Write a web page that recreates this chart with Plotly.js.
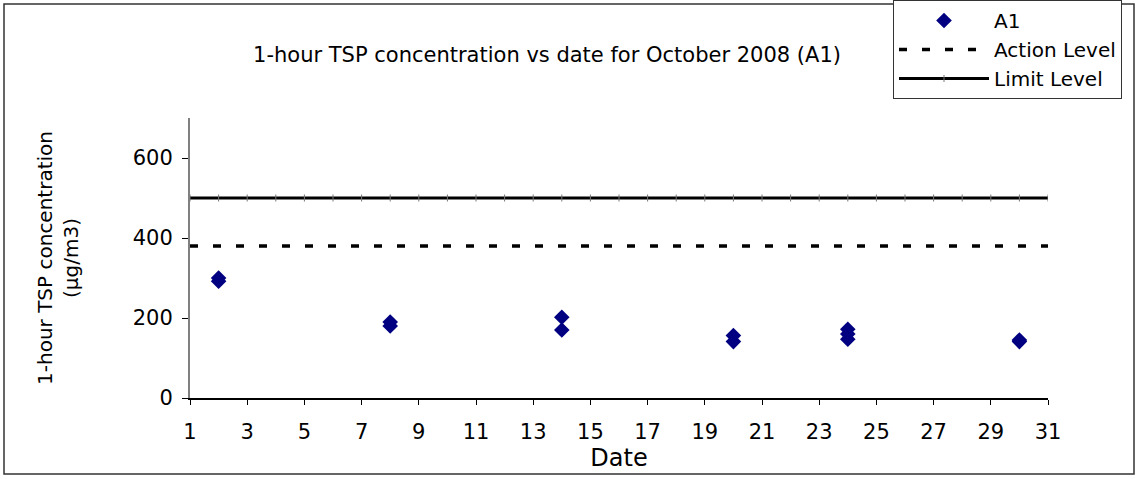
<!DOCTYPE html>
<html>
<head>
<meta charset="utf-8">
<script src="https://cdn.plot.ly/plotly-3.0.1.min.js"></script>
<style>
  html, body { margin: 0; padding: 0; background: #fff; }
  #chart { width: 1136px; height: 479px; }
</style>
</head>
<body>
<div id="chart"></div>
<script>
// ---- data ----
const a1Dates  = [2, 2, 8, 8, 14, 14, 20, 20, 24, 24, 24, 30, 30];
const a1Values = [300, 292, 190, 180, 202, 170, 156, 141, 172, 160, 147, 145, 141];
const levelDates = [1,2,3,4,5,6,7,8,9,10,11,12,13,14,15,16,17,18,19,20,21,22,23,24,25,26,27,28,29,30,31];
const actionLevel = 380;
const limitLevel = 500;
const xTickVals = [1,3,5,7,9,11,13,15,17,19,21,23,25,27,29,31];
const yTickVals = [0, 200, 400, 600];

const FONT = "DejaVu Sans, Liberation Sans, sans-serif";

const traces = [
  {
    x: a1Dates, y: a1Values, name: "A1", type: "scatter", mode: "markers",
    marker: { symbol: "diamond", size: 12, color: "#000080" }
  },
  {
    x: levelDates, y: levelDates.map(() => actionLevel), name: "Action Level",
    type: "scatter", mode: "lines",
    line: { color: "#000000", width: 3.5, dash: "8px,15px" }
  },
  {
    x: levelDates, y: levelDates.map(() => limitLevel), name: "Limit Level",
    type: "scatter", mode: "lines+markers",
    line: { color: "#000000", width: 3 },
    marker: { symbol: "line-ns-open", size: 5, color: "#777", line: { width: 1, color: "#777" } }
  }
];

const L = 190, R = 88, T = 118, B = 81;
const W = 1136 - L - R, H = 479 - T - B;
const px = v => (v - L) / W;
const py = v => (479 - B - v) / H;

const layout = {
  width: 1136, height: 479,
  margin: { l: L, r: R, t: T, b: B, pad: 0, autoexpand: false },
  paper_bgcolor: "#ffffff", plot_bgcolor: "#ffffff",
  font: { family: FONT, color: "#000" },
  showlegend: true,
  title: {
    text: "1-hour TSP concentration vs date for October 2008 (A1)",
    font: { family: FONT, size: 21, color: "#000" },
    x: 547 / 1136, xanchor: "center", xref: "container",
    y: 1 - 55 / 479, yanchor: "middle", yref: "container",
    automargin: false
  },
  xaxis: {
    range: [1, 31], tickvals: xTickVals, ticktext: xTickVals.map(String),
    showgrid: false, zeroline: false, automargin: false,
    showline: true, linecolor: "#000", linewidth: 1.5,
    ticks: "outside", ticklen: 5, tickcolor: "#000", tickwidth: 1,
    tickfont: { family: FONT, size: 21, color: "#000" },
    ticklabelstandoff: 9,
    title: { text: "Date", font: { family: FONT, size: 24, color: "#000" }, standoff: 0 }
  },
  yaxis: {
    range: [0, 700], tickvals: yTickVals, ticktext: yTickVals.map(String),
    showgrid: false, zeroline: false, automargin: false,
    showline: true, linecolor: "#808080", linewidth: 2,
    ticks: "outside", ticklen: 6, tickcolor: "#000", tickwidth: 1,
    tickfont: { family: FONT, size: 21, color: "#000" },
    ticklabelstandoff: 5,
    title: { text: "1-hour TSP concentration<br>(μg/m3)", font: { family: FONT, size: 20, color: "#000" }, standoff: 49 }
  },
  legend: {
    x: px(893), xanchor: "left", y: py(0), yanchor: "top",
    bgcolor: "#ffffff", bordercolor: "#333", borderwidth: 1,
    font: { family: FONT, size: 20, color: "#000" },
    tracegroupgap: 0, itemwidth: 90, entrywidth: 271
  },
  shapes: [
    {
      type: "rect", xref: "paper", yref: "paper",
      x0: px(4), x1: px(1134), y0: py(474), y1: py(4),
      line: { color: "#333", width: 1.5 }, fillcolor: "rgba(0,0,0,0)", layer: "below"
    }
  ]
};

Plotly.newPlot("chart", traces, layout, { displayModeBar: false, staticPlot: true });
</script>
</body>
</html>
